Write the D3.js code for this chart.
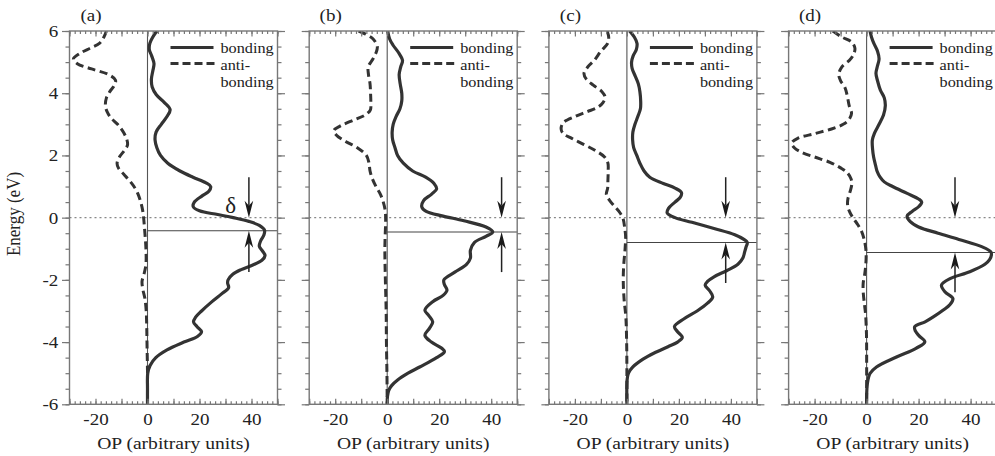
<!DOCTYPE html>
<html>
<head>
<meta charset="utf-8">
<script src="https://cdn.jsdelivr.net/npm/d3@7"></script>
<style>
  body { margin: 0; background: #fff; }
  svg { display: block; }
  text { font-family: "Liberation Serif", "Times New Roman", serif; fill: #222; }
</style>
</head>
<body>
<div id="chart"></div>
<script>
// ---- data: [energy (eV), OP] ----
const energyTicks = [-6, -4, -2, 0, 2, 4, 6];
const opTickLabels = [-20, 0, 20, 40];
const panelLabels = ["(a)", "(b)", "(c)", "(d)"];
const peakEnergy = [-0.42, -0.46, -0.80, -1.12];
const arrowOP = [39, 44, 38, 34];
const arrowDownFrom = [1.3, 1.3, 1.3, 1.3];
const arrowUpFrom = [-1.75, -1.75, -2.1, -2.4];

const bondingA = [[6.0,3.6],[5.8,2.0],[5.6,0.9],[5.4,0.7],[5.2,1.6],[4.95,2.5],[4.7,2.0],[4.45,1.5],[4.2,1.8],[3.95,3.4],[3.7,6.5],[3.47,8.7],[3.25,7.5],[3.0,5.3],[2.75,3.3],[2.5,2.9],[2.25,3.6],[2.0,5.0],[1.75,7.8],[1.5,12.5],[1.3,17.5],[1.12,22.5],[1.0,24.3],[0.85,23.6],[0.7,21.0],[0.5,18.0],[0.35,17.6],[0.22,20.0],[0.1,27.0],[0.0,33.0],[-0.12,39.0],[-0.25,43.0],[-0.4,45.0],[-0.55,44.8],[-0.75,43.5],[-0.92,43.0],[-1.07,44.2],[-1.22,45.2],[-1.37,44.0],[-1.52,40.5],[-1.67,36.0],[-1.82,32.8],[-2.0,31.0],[-2.1,30.8],[-2.25,31.2],[-2.45,28.5],[-2.7,24.8],[-3.0,20.8],[-3.2,18.5],[-3.35,17.7],[-3.5,19.0],[-3.67,20.8],[-3.82,19.2],[-4.0,14.0],[-4.25,7.5],[-4.5,3.2],[-4.75,1.0],[-5.0,0.1],[-5.5,0],[-6.0,0]];
const antiA = [[6.0,-15.8],[5.8,-16.8],[5.6,-18.5],[5.45,-22.0],[5.28,-26.0],[5.1,-28.5],[4.95,-27.0],[4.78,-21.5],[4.6,-15.0],[4.42,-12.3],[4.25,-12.8],[4.05,-14.5],[3.85,-15.8],[3.6,-16.2],[3.4,-15.5],[3.2,-14.0],[3.0,-11.5],[2.75,-9.3],[2.5,-7.9],[2.33,-7.7],[2.15,-9.0],[1.95,-10.8],[1.75,-11.7],[1.6,-11.2],[1.4,-9.2],[1.2,-7.0],[1.0,-5.2],[0.75,-3.6],[0.5,-2.6],[0.25,-1.9],[0.0,-1.5],[-0.5,-1.0],[-1.0,-0.6],[-1.5,-0.6],[-1.8,-1.3],[-2.05,-2.1],[-2.3,-1.8],[-2.6,-1.0],[-3.0,-0.5],[-3.5,-0.3],[-4.0,-0.2],[-5.0,0],[-6.0,0]];

const bondingB = [[6.0,0.2],[5.75,0.9],[5.55,2.2],[5.3,4.4],[5.05,5.9],[4.85,5.2],[4.6,4.6],[4.3,5.0],[4.0,5.6],[3.75,5.6],[3.5,4.9],[3.25,3.4],[3.0,2.3],[2.75,1.9],[2.5,2.1],[2.25,3.0],[2.0,4.0],[1.75,6.2],[1.5,9.8],[1.3,14.8],[1.1,18.0],[0.92,19.0],[0.75,17.0],[0.55,14.0],[0.35,13.3],[0.2,15.0],[0.05,21.5],[-0.1,29.5],[-0.3,38.0],[-0.46,40.6],[-0.6,38.0],[-0.8,33.5],[-1.05,32.0],[-1.3,32.0],[-1.5,30.5],[-1.75,26.0],[-2.0,21.8],[-2.15,22.0],[-2.33,23.0],[-2.5,21.5],[-2.7,17.5],[-2.97,14.5],[-3.15,16.0],[-3.35,17.5],[-3.55,16.3],[-3.78,14.5],[-4.0,17.0],[-4.2,21.0],[-4.31,22.0],[-4.5,19.0],[-4.8,12.5],[-5.0,8.0],[-5.22,4.0],[-5.4,1.7],[-5.55,0.6],[-5.75,0.1],[-6.0,0]];
const antiB = [[6.0,-11.0],[5.9,-8.3],[5.75,-5.5],[5.5,-3.8],[5.3,-4.3],[5.1,-5.5],[4.85,-7.3],[4.6,-7.2],[4.3,-6.6],[4.0,-6.4],[3.7,-6.3],[3.46,-6.5],[3.3,-8.5],[3.15,-12.5],[2.95,-18.0],[2.8,-20.5],[2.65,-19.5],[2.45,-16.0],[2.25,-11.5],[2.0,-8.0],[1.75,-7.0],[1.5,-6.6],[1.25,-5.7],[1.0,-4.3],[0.75,-2.6],[0.5,-1.5],[0.25,-0.8],[0.0,-0.6],[-1.0,-0.9],[-2.0,-0.7],[-3.0,-0.4],[-4.0,-0.3],[-5.0,-0.1],[-6.0,0]];

const bondingC = [[6.0,1.0],[5.8,2.9],[5.6,3.9],[5.4,3.6],[5.2,2.4],[5.0,1.8],[4.8,2.0],[4.55,3.2],[4.3,4.4],[4.05,5.0],[3.75,5.3],[3.5,5.2],[3.25,4.2],[3.0,3.1],[2.75,2.3],[2.5,2.2],[2.25,2.6],[2.0,3.8],[1.75,5.0],[1.5,6.6],[1.3,8.8],[1.1,14.0],[0.95,18.5],[0.8,21.0],[0.65,20.5],[0.5,18.5],[0.3,16.0],[0.15,15.5],[0.0,18.5],[-0.15,25.0],[-0.35,33.5],[-0.55,41.5],[-0.7,45.0],[-0.8,46.3],[-0.95,45.8],[-1.1,45.3],[-1.3,44.6],[-1.5,42.7],[-1.7,38.5],[-1.9,33.5],[-2.05,31.0],[-2.17,30.1],[-2.35,31.8],[-2.55,33.0],[-2.75,31.0],[-3.0,27.0],[-3.25,22.0],[-3.5,18.3],[-3.66,19.4],[-3.85,21.3],[-4.0,19.5],[-4.15,15.8],[-4.35,10.5],[-4.55,6.2],[-4.8,2.3],[-5.0,0.6],[-5.2,0.1],[-6.0,0]];
const antiC = [[6.0,-7.6],[5.8,-7.0],[5.6,-7.4],[5.35,-10.0],[5.06,-12.5],[4.85,-15.0],[4.64,-16.5],[4.45,-15.6],[4.25,-12.8],[4.05,-9.6],[3.88,-8.4],[3.7,-9.2],[3.55,-11.2],[3.4,-15.5],[3.25,-20.0],[3.05,-24.5],[2.85,-25.3],[2.7,-24.5],[2.55,-21.2],[2.35,-16.5],[2.15,-12.0],[1.95,-8.6],[1.75,-7.3],[1.5,-7.2],[1.2,-7.3],[0.95,-7.4],[0.75,-7.9],[0.55,-6.6],[0.35,-4.6],[0.15,-2.6],[-0.05,-1.4],[-0.3,-0.9],[-0.6,-0.5],[-1.0,-0.7],[-1.5,-1.2],[-2.0,-1.4],[-2.6,-1.1],[-3.2,-0.4],[-4.0,-0.1],[-5.0,0],[-6.0,0]];

const bondingD = [[6.0,1.3],[5.8,1.9],[5.6,2.8],[5.35,4.2],[5.1,4.8],[4.85,4.1],[4.64,3.6],[4.4,4.2],[4.1,5.3],[3.85,6.8],[3.6,7.2],[3.3,6.5],[3.0,4.8],[2.71,3.0],[2.49,2.2],[2.2,2.3],[1.95,2.7],[1.7,3.4],[1.5,4.0],[1.3,5.2],[1.15,6.8],[1.0,10.0],[0.78,15.6],[0.6,20.0],[0.5,21.2],[0.35,20.0],[0.2,17.5],[0.05,15.6],[-0.13,16.8],[-0.3,20.0],[-0.5,27.5],[-0.7,35.5],[-0.94,44.5],[-1.1,47.8],[-1.2,48.0],[-1.35,47.3],[-1.5,45.5],[-1.74,39.7],[-1.96,32.1],[-2.17,28.8],[-2.39,30.2],[-2.6,33.2],[-2.8,32.0],[-2.97,29.5],[-3.2,25.5],[-3.35,22.5],[-3.51,18.5],[-3.65,18.8],[-3.8,20.2],[-3.99,22.4],[-4.2,19.0],[-4.48,11.5],[-4.8,3.8],[-5.01,1.3],[-5.33,0.3],[-6.0,0]];
const antiD = [[6.0,-13.0],[5.81,-9.6],[5.65,-5.8],[5.45,-4.5],[5.25,-5.0],[5.06,-6.6],[4.85,-9.5],[4.6,-10.7],[4.4,-10.0],[4.2,-8.4],[3.9,-7.4],[3.6,-6.7],[3.35,-5.8],[3.15,-6.8],[3.0,-9.0],[2.85,-13.5],[2.7,-20.0],[2.55,-26.5],[2.4,-28.8],[2.25,-27.8],[2.1,-25.0],[1.95,-20.0],[1.78,-14.1],[1.6,-10.0],[1.45,-7.5],[1.25,-6.0],[1.08,-5.7],[0.85,-6.3],[0.6,-7.2],[0.4,-7.3],[0.2,-6.6],[0.0,-5.3],[-0.2,-3.6],[-0.45,-1.9],[-0.75,-0.8],[-1.1,-0.2],[-1.5,-0.3],[-1.8,-0.7],[-2.1,-1.3],[-2.4,-1.3],[-2.8,-0.8],[-3.1,-0.4],[-3.6,-0.1],[-4.0,0],[-6.0,0]];

const bonding = [bondingA, bondingB, bondingC, bondingD];
const antibonding = [antiA, antiB, antiC, antiD];

// ---- layout ----
const W = 995, H = 456;
const plotTop = 31, plotBottom = 404.3;
const firstLeft = 69.5, panelStep = 239.7, panelW = 208;
const ink = "#333", frame = "#777";
const sx = 1.12; // the scan is a bit wider than tall

const svg = d3.select("#chart").append("svg")
  .attr("width", W).attr("height", H);

const y = d3.scaleLinear().domain([-6, 6]).range([plotBottom, plotTop]);

function stretched(g, x, yy, str, size, anchor) {
  return g.append("text")
    .attr("transform", `translate(${x},${yy}) scale(${sx},1)`)
    .attr("text-anchor", anchor || "start")
    .attr("font-size", size)
    .text(str);
}

function arrow(g, x0, yFrom, yTip) {
  const dir = yTip > yFrom ? 1 : -1;
  const len = 17, half = 4.3, notch = 5;
  g.append("line")
    .attr("x1", x0).attr("x2", x0)
    .attr("y1", yFrom).attr("y2", yTip - dir * (len - notch))
    .attr("stroke", "#222").attr("stroke-width", 1.5);
  g.append("path")
    .attr("d", `M${x0},${yTip} L${x0 - half},${yTip - dir * len} L${x0},${yTip - dir * (len - notch)} L${x0 + half},${yTip - dir * len} Z`)
    .attr("fill", "#1a1a1a");
}

function styleAxis(sel) {
  sel.select(".domain").remove();
  sel.selectAll("line").attr("stroke", frame).attr("stroke-width", 1.2);
  sel.attr("font-family", null).attr("font-size", 17);
  sel.selectAll("text").attr("fill", "#222");
}

panelLabels.forEach((lab, i) => {
  const left = firstLeft + i * panelStep;
  const right = left + panelW;
  const x = d3.scaleLinear().domain([-30, 50]).range([left, right]);
  const g = svg.append("g");

  const clipId = "clip" + i;
  svg.append("clipPath").attr("id", clipId)
    .append("rect").attr("x", left).attr("y", plotTop)
    .attr("width", panelW).attr("height", plotBottom - plotTop);

  // dotted Fermi level
  g.append("line")
    .attr("x1", left).attr("x2", right).attr("y1", y(0)).attr("y2", y(0))
    .attr("stroke", "#888").attr("stroke-width", 1.2).attr("stroke-dasharray", "2,3");

  // zero OP line
  g.append("line")
    .attr("x1", x(0)).attr("x2", x(0)).attr("y1", plotTop).attr("y2", plotBottom)
    .attr("stroke", "#555").attr("stroke-width", 1.1);

  // peak marker line
  g.append("line")
    .attr("x1", x(0)).attr("x2", right).attr("y1", y(peakEnergy[i])).attr("y2", y(peakEnergy[i]))
    .attr("stroke", "#444").attr("stroke-width", 1.1);

  const line = d3.line()
    .x(d => x(d[1]))
    .y(d => y(d[0]))
    .curve(d3.curveCatmullRom.alpha(0.5));

  const curves = g.append("g").attr("clip-path", `url(#${clipId})`);
  curves.append("path").datum(antibonding[i])
    .attr("d", line).attr("fill", "none")
    .attr("stroke", ink).attr("stroke-width", 3).attr("stroke-dasharray", "8,4.5");
  curves.append("path").datum(bonding[i])
    .attr("d", line).attr("fill", "none")
    .attr("stroke", ink).attr("stroke-width", 3.2);

  // frame
  g.append("rect")
    .attr("x", left).attr("y", plotTop).attr("width", panelW).attr("height", plotBottom - plotTop)
    .attr("fill", "none").attr("stroke", frame).attr("stroke-width", 1.4);

  // energy axes (outward ticks, both sides)
  const leftMajor = g.append("g").attr("transform", `translate(${left},0)`)
    .call(d3.axisLeft(y).tickValues(energyTicks).tickSize(7.5).tickPadding(2.5)
      .tickFormat(i === 0 ? d => String(d) : () => ""));
  styleAxis(leftMajor);
  leftMajor.selectAll("text").attr("transform", `scale(${sx},1)`);
  styleAxis(g.append("g").attr("transform", `translate(${left},0)`)
    .call(d3.axisLeft(y).tickValues(d3.range(-6, 6.01, 0.5)).tickSize(4).tickFormat(() => "")));
  styleAxis(g.append("g").attr("transform", `translate(${right},0)`)
    .call(d3.axisRight(y).tickValues(energyTicks).tickSize(7.5).tickFormat(() => "")));
  styleAxis(g.append("g").attr("transform", `translate(${right},0)`)
    .call(d3.axisRight(y).tickValues(d3.range(-6, 6.01, 0.5)).tickSize(4).tickFormat(() => "")));

  // OP axes (inward ticks)
  styleAxis(g.append("g").attr("transform", `translate(0,${plotTop})`)
    .call(d3.axisTop(x).tickValues(d3.range(-30, 51, 10)).tickSize(-5.5).tickFormat(() => "")));
  styleAxis(g.append("g").attr("transform", `translate(0,${plotTop})`)
    .call(d3.axisTop(x).tickValues(d3.range(-30, 51, 2)).tickSize(-3).tickFormat(() => "")));
  const bottomMajor = g.append("g").attr("transform", `translate(0,${plotBottom})`)
    .call(d3.axisBottom(x).tickValues(d3.range(-30, 51, 10)).tickSize(-5.5).tickPadding(9)
      .tickFormat(d => opTickLabels.includes(d) ? String(d) : ""));
  styleAxis(bottomMajor);
  bottomMajor.selectAll("text").attr("transform", `scale(${sx},1)`);
  styleAxis(g.append("g").attr("transform", `translate(0,${plotBottom})`)
    .call(d3.axisBottom(x).tickValues(d3.range(-30, 51, 2)).tickSize(-3).tickFormat(() => "")));

  // arrows marking the shift of the peak
  arrow(g, x(arrowOP[i]), y(arrowDownFrom[i]), y(0));
  arrow(g, x(arrowOP[i]), y(arrowUpFrom[i]), y(peakEnergy[i]));

  // legend
  g.append("line")
    .attr("x1", left + 101).attr("x2", left + 144).attr("y1", 47.5).attr("y2", 47.5)
    .attr("stroke", ink).attr("stroke-width", 3.2);
  g.append("line")
    .attr("x1", left + 101).attr("x2", left + 145).attr("y1", 63.5).attr("y2", 63.5)
    .attr("stroke", ink).attr("stroke-width", 3).attr("stroke-dasharray", "8,4");
  stretched(g, left + 151, 52.5, "bonding", 14.5).attr("fill", "#333");
  stretched(g, left + 151, 69.5, "anti-", 14.5).attr("fill", "#333");
  stretched(g, left + 151, 87, "bonding", 14.5).attr("fill", "#333");

  // panel tag and x title
  stretched(g, left + 21.5, 21, lab, 17, "middle");
  stretched(g, left + panelW / 2, 449, "OP (arbitrary units)", 17.5, "middle");

  if (i === 0) {
    g.append("text")
      .attr("x", x(32)).attr("y", y(0) - 4.5)
      .attr("text-anchor", "middle").attr("font-size", 23)
      .text("\u03b4");
  }
});

svg.append("text")
  .attr("transform", `translate(20,214) scale(${sx},1) rotate(-90)`)
  .attr("text-anchor", "middle").attr("font-size", 17)
  .text("Energy (eV)");
</script>
</body>
</html>
